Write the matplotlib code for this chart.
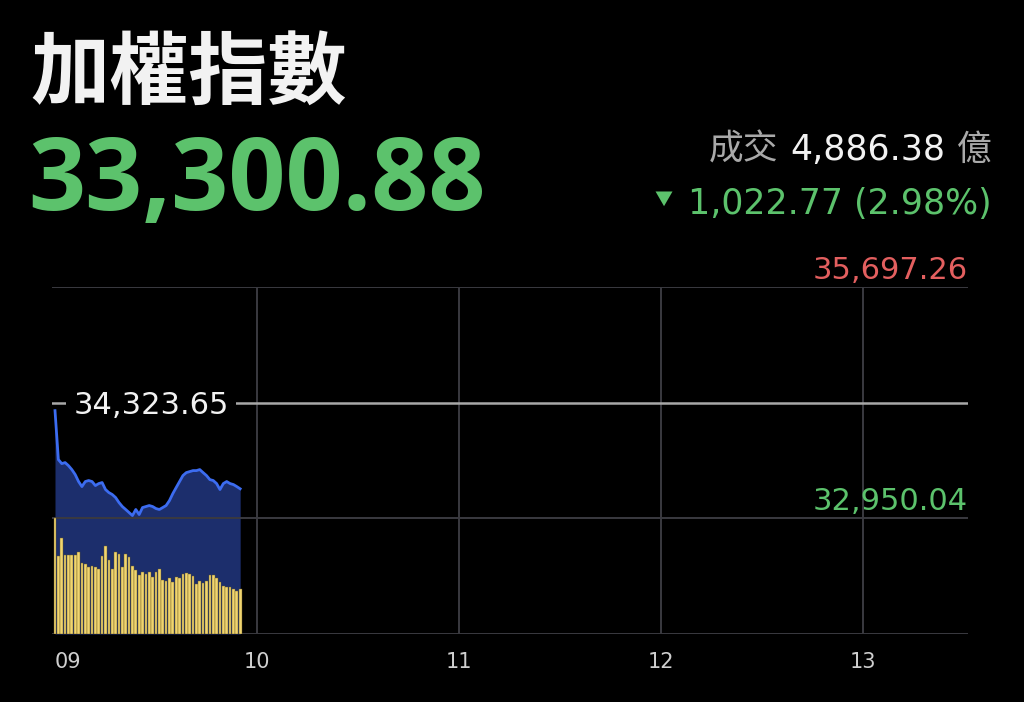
import matplotlib
matplotlib.use("Agg")
import matplotlib.pyplot as plt
import matplotlib.transforms as mtransforms
import numpy as np

plt.rcParams['font.family'] = ['DejaVu Sans', 'Noto Sans CJK TC']

# ---- data -------------------------------------------------------------
title = "加權指數"
last_price = 33300.88
prev_close = 34323.65
upper_band = 35697.26
lower_band = 32950.04
change = -1022.77
change_pct = -2.98
turnover = 4886.38  # 億

# minute-by-minute index level from 09:00
prices = [34229, 33648, 33600, 33612, 33576, 33529, 33470, 33387, 33327, 33387,
          33399, 33387, 33339, 33363, 33375, 33292, 33256, 33233, 33197, 33138,
          33090, 33055, 33019, 32983, 33055, 32995, 33078, 33090, 33102, 33090,
          33066, 33055, 33078, 33102, 33161, 33244, 33316, 33387, 33458, 33493,
          33505, 33517, 33517, 33529, 33493, 33458, 33410, 33399, 33363, 33292,
          33363, 33387, 33363, 33351, 33327, 33300.88]

# minute turnover (億)
volumes = [156, 105, 129, 107, 107, 107, 107, 110, 96, 95,
           91, 92, 90, 88, 105, 119, 100, 88, 111, 108,
           90, 108, 104, 92, 86, 79, 84, 81, 83, 77,
           83, 88, 73, 72, 75, 70, 77, 76, 81, 82,
           81, 78, 68, 72, 69, 72, 79, 80, 76, 70,
           65, 63, 63, 61, 58, 61]

hour_ticks = [0, 60, 120, 180, 240]
hour_labels = ["09", "10", "11", "12", "13"]

# ---- style ------------------------------------------------------------
BG = "#000000"
GRID = "#3a3a40"
WHITE = "#f2f2f2"
GREY = "#a9a9a9"
GREEN = "#5cc26c"
RED = "#e35f5f"
LINE = "#3c6cf0"
FILL = "#1c2e6c"
BAR = "#f0d570"
CJK = ['Noto Sans CJK TC', 'DejaVu Sans']
NUM = ['DejaVu Sans', 'Noto Sans CJK TC']

W, H = 1024, 702
fig = plt.figure(figsize=(W / 100, H / 100), dpi=100, facecolor=BG)

ax_l, ax_r, ax_t, ax_b = 52, 968, 287, 634
ax = fig.add_axes([ax_l / W, 1 - ax_b / H, (ax_r - ax_l) / W, (ax_b - ax_t) / H])
ax.set_facecolor(BG)

step = upper_band - prev_close
y_min = upper_band - 3 * step
ax.set_ylim(y_min, upper_band)
px_per_min = 202 / 60
ax.set_xlim(-(55 - ax_l) / px_per_min, (ax_r - 55) / px_per_min)

minutes = np.arange(len(prices))
ax.fill_between(minutes, prices, y_min, color=FILL, lw=0, zorder=1)
ax.plot(minutes, prices, color=LINE, lw=2, zorder=3, solid_joinstyle='round')

for yv in (upper_band, lower_band, y_min):
    ax.axhline(yv, color=GRID, lw=1.4, zorder=2)
for t in hour_ticks[1:]:
    ax.axvline(t, color=GRID, lw=1.4, zorder=2)
ax.axhline(prev_close, color="#a8a8a8", lw=1.8, zorder=2)

ax.annotate(f"{prev_close:,.2f}", xy=(28.5, prev_close), xytext=(0, -2),
            textcoords='offset points', ha='center', va='center',
            color=WHITE, fontsize=22, zorder=5,
            bbox=dict(boxstyle='square,pad=0.25', fc=BG, ec='none'))

edge = mtransforms.blended_transform_factory(ax.transAxes, ax.transData)
ax.annotate(f"{upper_band:,.2f}", xy=(1.0, upper_band), xycoords=edge,
            xytext=(0, 6), textcoords='offset points', ha='right', va='baseline',
            color=RED, fontsize=22)
ax.annotate(f"{lower_band:,.2f}", xy=(1.0, lower_band), xycoords=edge,
            xytext=(0, 6), textcoords='offset points', ha='right', va='baseline',
            color=GREEN, fontsize=22)

ax.set_xticks(hour_ticks, hour_labels)
ax.set_yticks([])
ax.tick_params(axis='x', length=0, pad=13, labelsize=15, labelcolor="#cfcfcf")
ax.get_xticklabels()[0].set_ha('left')
for s in ax.spines.values():
    s.set_visible(False)

# volume bars on a secondary scale occupying the bottom third
axv = ax.twinx()
axv.set_ylim(0, 3 * max(volumes))
axv.bar(minutes, volumes, width=0.8, color=BAR, edgecolor="#6d5a22",
        linewidth=0.3, zorder=3)
axv.set_yticks([])
for s in axv.spines.values():
    s.set_visible(False)

# ---- header -----------------------------------------------------------
fig.text(30 / W, 1 - 98 / H, title, ha='left', va='baseline', color=WHITE,
         fontsize=57, fontweight='bold', family=CJK)
fig.text(28 / W, 1 - 210 / H, f"{last_price:,.2f}", ha='left', va='baseline',
         color=GREEN, fontsize=72, fontweight='bold',
         family=['Open Sans', 'Noto Sans CJK TC'])

renderer = fig.canvas.get_renderer()


def right_run(x_right, y_base, pieces, size):
    """Place text pieces right-to-left; each piece's gap is the space to its left."""
    x = x_right
    for txt, color, gap, fam in reversed(pieces):
        t = fig.text(x / W, 1 - y_base / H, txt, ha='right', va='baseline',
                     color=color, fontsize=size, family=fam)
        bb = t.get_window_extent(renderer)
        x = bb.x0 - gap
    return x


right_run(992, 160, [("成交", GREY, 0, CJK),
                     (f"{turnover:,.2f}", WHITE, 12, NUM),
                     ("億", GREY, 12, CJK)], 25)
x_tri = right_run(992, 214, [(f"{abs(change):,.2f} ({abs(change_pct):.2f}%)", GREEN, 16, NUM)], 25)
fig.text(x_tri / W, 1 - 200 / H, "▼", ha='right', va='center', color=GREEN,
         fontsize=13, family=CJK)

fig.savefig("out.png", dpi=100, facecolor=BG)
